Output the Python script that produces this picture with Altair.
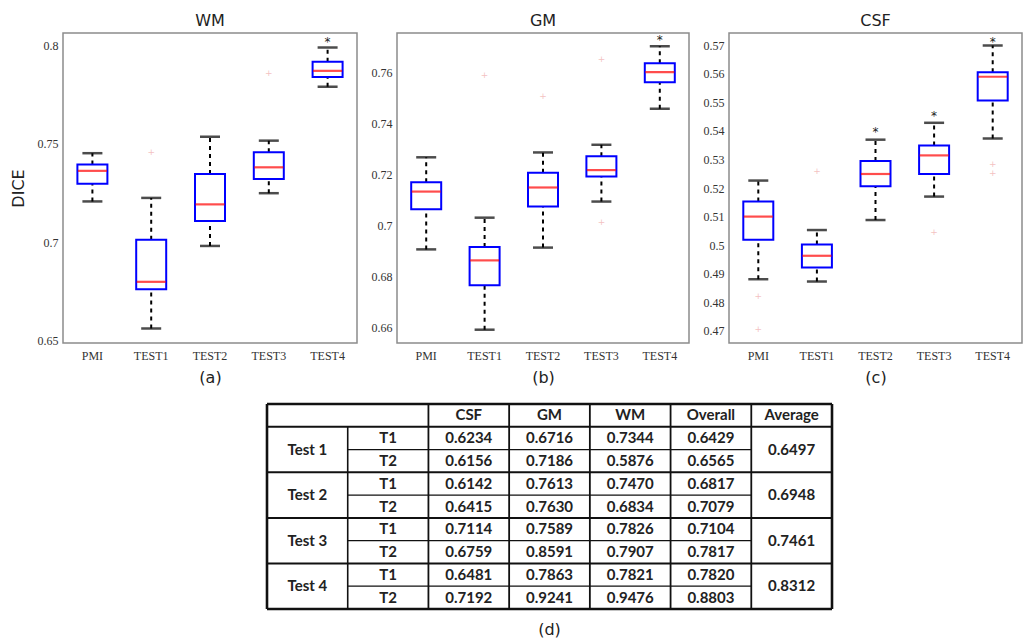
import altair as alt
import pandas as pd

# ---------------- data ----------------
groups = ["PMI", "TEST1", "TEST2", "TEST3", "TEST4"]

wm_lower = [0.7207, 0.6559, 0.6980, 0.7249, 0.7792]
wm_q1 = [0.7297, 0.6759, 0.7107, 0.7322, 0.7842]
wm_median = [0.7363, 0.6797, 0.7192, 0.7381, 0.7873]
wm_q3 = [0.7395, 0.7012, 0.7347, 0.7458, 0.7920]
wm_upper = [0.7453, 0.7225, 0.7537, 0.7517, 0.7992]
wm_out_group = ["TEST1", "TEST3"]
wm_out_value = [0.7461, 0.7861]
wm_star_group = ["TEST4"]
wm_star_value = [0.8025]
wm_ticks = [0.65, 0.7, 0.75, 0.8]
wm_domain = [0.6485, 0.8066]

gm_lower = [0.6907, 0.6593, 0.6914, 0.7094, 0.7457]
gm_q1 = [0.7064, 0.6767, 0.7075, 0.7192, 0.7560]
gm_median = [0.7133, 0.6864, 0.7149, 0.7217, 0.7600]
gm_q3 = [0.7169, 0.6916, 0.7207, 0.7271, 0.7635]
gm_upper = [0.7267, 0.7031, 0.7286, 0.7316, 0.7701]
gm_out_group = ["TEST1", "TEST2", "TEST3", "TEST3"]
gm_out_value = [0.7590, 0.7508, 0.7016, 0.7652]
gm_star_group = ["TEST4"]
gm_star_value = [0.7731]
gm_ticks = [0.66, 0.68, 0.7, 0.72, 0.74, 0.76]
gm_domain = [0.6541, 0.7753]

csf_lower = [0.4881, 0.4873, 0.5088, 0.5170, 0.5373]
csf_q1 = [0.5019, 0.4922, 0.5206, 0.5249, 0.5506]
csf_median = [0.5100, 0.4963, 0.5249, 0.5314, 0.5589]
csf_q3 = [0.5153, 0.5002, 0.5294, 0.5349, 0.5605]
csf_upper = [0.5226, 0.5053, 0.5369, 0.5428, 0.5698]
csf_out_group = ["PMI", "PMI", "TEST1", "TEST3", "TEST4", "TEST4"]
csf_out_value = [0.4823, 0.4706, 0.5261, 0.5047, 0.5285, 0.5253]
csf_star_group = ["TEST2", "TEST3", "TEST4"]
csf_star_value = [0.5398, 0.5454, 0.5715]
csf_ticks = [0.47, 0.48, 0.49, 0.5, 0.51, 0.52, 0.53, 0.54, 0.55, 0.56, 0.57]
csf_domain = [0.4658, 0.5742]

# table
tbl_header = ["CSF", "GM", "WM", "Overall", "Average"]
tbl_tests = ["Test 1", "Test 2", "Test 3", "Test 4"]
tbl_trials = ["T1", "T2"]
tbl_csf = [0.6234, 0.6156, 0.6142, 0.6415, 0.7114, 0.6759, 0.6481, 0.7192]
tbl_gm = [0.6716, 0.7186, 0.7613, 0.7630, 0.7589, 0.8591, 0.7863, 0.9241]
tbl_wm = [0.7344, 0.5876, 0.7470, 0.6834, 0.7826, 0.7907, 0.7821, 0.9476]
tbl_overall = [0.6429, 0.6565, 0.6817, 0.7079, 0.7104, 0.7817, 0.7820, 0.8803]
tbl_average = [0.6497, 0.6948, 0.7461, 0.8312]

# ---------------- styles ----------------
SANS = "DejaVu Sans"
SERIF = "Liberation Serif"
TBL_FONT = "Lato"
PAD_L, PAD_T = 9, 12
PANEL_LEFT = 63           # left edge of first plot area
PANEL_W = [294, 292, 293]
PANEL_H = 310
TABLE_LEFT, TABLE_RIGHT = 267, 832
TABLE_W = 955
TABLE_H = 205


def panel(title, sub, lower, q1, med, q3, upper, og, ov, sg, sv, domain, ticks, width, ytitle):
    df = pd.DataFrame({"group": groups, "lower": lower, "q1": q1, "median": med,
                       "q3": q3, "upper": upper})
    out_df = pd.DataFrame({"group": og, "value": ov})
    star_df = pd.DataFrame({"group": sg, "value": sv})

    xaxis = alt.Axis(title=sub, labelAngle=0, ticks=False, domain=False, grid=False,
                     labelFont=SERIF, labelFontSize=12, labelColor="#333",
                     labelPadding=7, titleFont=SANS, titleFontSize=16,
                     titleFontWeight="normal", titleColor="#222", titlePadding=8)
    yaxis = alt.Axis(title=ytitle, values=ticks, labelExpr="toString(datum.value)",
                     ticks=False, domain=False, grid=False,
                     labelFont=SERIF, labelFontSize=12, labelColor="#333",
                     labelPadding=5, titleFont=SANS, titleFontSize=16,
                     titleFontWeight="normal", titleColor="#222", titlePadding=11)
    xs = alt.Scale(domain=groups, paddingInner=0, paddingOuter=0)
    ys = alt.Scale(domain=domain, nice=False, zero=False)

    def X():
        return alt.X("group:N", sort=groups, scale=xs, axis=xaxis)

    def Y(f):
        return alt.Y(f + ":Q", scale=ys, axis=yaxis)

    base = alt.Chart(df)
    wh_up = base.mark_rule(color="black", strokeWidth=2, strokeDash=[4, 4]).encode(
        x=X(), y=Y("q3"), y2="upper")
    wh_lo = base.mark_rule(color="black", strokeWidth=2, strokeDash=[4, 4]).encode(
        x=X(), y=Y("lower"), y2="q1")
    cap_lo = base.mark_tick(color="black", size=20, thickness=2.5).encode(x=X(), y=Y("lower"))
    cap_up = base.mark_tick(color="black", size=20, thickness=2.5).encode(x=X(), y=Y("upper"))
    box = base.mark_bar(size=30, fill="white", stroke="#0000ff", strokeWidth=2).encode(
        x=X(), y=Y("q1"), y2="q3")
    medl = base.mark_tick(color="#ff0000", size=29, thickness=2.2).encode(x=X(), y=Y("median"))
    outs = alt.Chart(out_df).mark_text(text="+", color="#e05050", opacity=0.35,
                                       fontSize=9, font=SANS).encode(x=X(), y=Y("value"))
    stars = alt.Chart(star_df).mark_text(text="*", color="#222", fontSize=12,
                                         font=SANS, dy=1).encode(x=X(), y=Y("value"))
    return alt.layer(wh_up, wh_lo, cap_lo, cap_up, box, medl, outs, stars).properties(
        width=width, height=PANEL_H,
        title=alt.TitleParams(title, font=SANS, fontSize=16, fontWeight="normal",
                              color="#222", offset=4))


pa = panel("WM", "(a)", wm_lower, wm_q1, wm_median, wm_q3, wm_upper, wm_out_group,
           wm_out_value, wm_star_group, wm_star_value, wm_domain, wm_ticks, PANEL_W[0], "DICE")
pb = panel("GM", "(b)", gm_lower, gm_q1, gm_median, gm_q3, gm_upper, gm_out_group,
           gm_out_value, gm_star_group, gm_star_value, gm_domain, gm_ticks, PANEL_W[1], None)
pc = panel("CSF", "(c)", csf_lower, csf_q1, csf_median, csf_q3, csf_upper, csf_out_group,
           csf_out_value, csf_star_group, csf_star_value, csf_domain, csf_ticks, PANEL_W[2], None)

top = alt.hconcat(pa, pb, pc, spacing=40, bounds="flush")

# ---------------- table ----------------
ncols = 2 + len(tbl_header)
nrows = 1 + len(tbl_tests) * len(tbl_trials)

cells = []
for i, h in enumerate(tbl_header):
    cells.append({"c": 2 + i + 0.5, "r": 0.5, "t": h})
for g, test in enumerate(tbl_tests):
    r0 = 1 + g * 2
    cells.append({"c": 0.5, "r": r0 + 1.0, "t": test})
    cells.append({"c": 6.5, "r": r0 + 1.0, "t": f"{tbl_average[g]:.4f}"})
    for k, tr in enumerate(tbl_trials):
        idx = g * 2 + k
        rr = r0 + k + 0.5
        cells.append({"c": 1.5, "r": rr, "t": tr})
        for j, arr in enumerate([tbl_csf, tbl_gm, tbl_wm, tbl_overall]):
            cells.append({"c": 2 + j + 0.5, "r": rr, "t": f"{arr[idx]:.4f}"})
cells_df = pd.DataFrame(cells)

lines = []
for r in range(nrows + 1):
    if r in (0, nrows):
        lines.append({"x": 0, "x2": ncols, "y": r, "y2": r, "w": 2.6})
    elif r == 1 or (r - 1) % 2 == 0:
        lines.append({"x": 0, "x2": ncols, "y": r, "y2": r, "w": 2.0})
    else:
        lines.append({"x": 1, "x2": ncols - 1, "y": r, "y2": r, "w": 1.2})
for c in range(ncols + 1):
    if c in (0, ncols):
        lines.append({"x": c, "x2": c, "y": 0, "y2": nrows, "w": 2.6})
    elif c == 1:
        lines.append({"x": c, "x2": c, "y": 1, "y2": nrows, "w": 1.6})
    else:
        lines.append({"x": c, "x2": c, "y": 0, "y2": nrows, "w": 1.8})
lines_df = pd.DataFrame(lines)

unit = (TABLE_RIGHT - TABLE_LEFT) / ncols
d0 = -(TABLE_LEFT - PANEL_LEFT) / unit
d1 = d0 + TABLE_W / unit
txs = alt.Scale(domain=[d0, d1], nice=False, zero=False)
tys = alt.Scale(domain=[0, nrows], nice=False, zero=False, reverse=True)

t_lines = alt.Chart(lines_df).mark_rule(color="#111").encode(
    x=alt.X("x:Q", scale=txs, axis=None), x2="x2",
    y=alt.Y("y:Q", scale=tys, axis=None), y2="y2",
    strokeWidth=alt.StrokeWidth("w:Q", scale=None))
t_text = alt.Chart(cells_df).mark_text(font=TBL_FONT, fontSize=15, fontWeight="bold",
                                       color="#222").encode(
    x=alt.X("c:Q", scale=txs, axis=None), y=alt.Y("r:Q", scale=tys, axis=None),
    text="t:N")
d_df = pd.DataFrame({"c": [ncols / 2], "r": [nrows + 0.9], "t": ["(d)"]})
t_label = alt.Chart(d_df).mark_text(font=SANS, fontSize=16, color="#222").encode(
    x=alt.X("c:Q", scale=txs, axis=None), y=alt.Y("r:Q", scale=tys, axis=None),
    text="t:N")
table = alt.layer(t_lines, t_text, t_label).properties(
    width=TABLE_W, height=TABLE_H, view=alt.ViewBackground(stroke="transparent"))

chart = alt.vconcat(top, table, spacing=15).properties(
    padding={"left": PAD_L, "top": PAD_T, "right": 0, "bottom": 0},
    background="white",
).configure_view(stroke="#8c8c8c", strokeWidth=1.5)

chart.save("out.html", embed_options={"renderer": "svg", "actions": False})
